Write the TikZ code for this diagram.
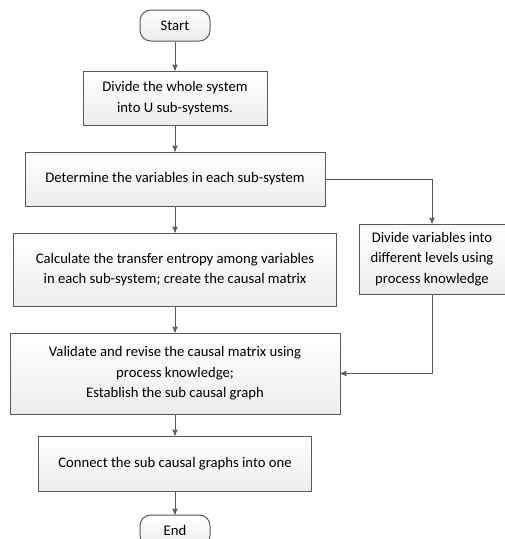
\documentclass[tikz,border=0pt]{standalone}
\usepackage{fontspec}
\setmainfont{Carlito}
\usetikzlibrary{shapes,arrows,positioning,calc}
\tikzstyle{startstop} = [rectangle, rounded corners=8pt, minimum width=52.5pt, minimum height=23.25pt, inner sep=0pt, text centered, draw=black!65, line width=0.75pt, top color=white, bottom color=gray!14]
\tikzstyle{process} = [rectangle, inner sep=0pt, align=center, draw=black!65, line width=0.75pt, top color=white, bottom color=gray!14]
\tikzstyle{arrow} = [draw=black!65, line width=0.7pt, ->, >=stealth']

\begin{document}
\begin{tikzpicture}[x=0.75pt, y=-0.75pt, font=\fontsize{11}{15.4}\selectfont]
        \useasboundingbox (0,0) rectangle (505,539);
        \node (start) [startstop] at (175,25.5) {Start};
        \node (divide) [process, minimum width=138pt, minimum height=40.5pt] at (175,98) {Divide the whole system\\into U sub-systems.};
        \node (determine) [process, minimum width=225pt, minimum height=40.5pt] at (175,179) {Determine the variables in each sub-system};
        \node (entropy) [process, minimum width=242.25pt, minimum height=54.75pt] at (175,269.5) {Calculate the transfer entropy among variables\\in each sub-system; create the causal matrix};
        \node (levels) [process, minimum width=109.5pt, minimum height=52.5pt] at (432,259) {Divide variables into\\different levels using\\process knowledge};
        \node (validate) [process, minimum width=247.5pt, minimum height=60.75pt] at (175,373.5) {Validate and revise the causal matrix using\\process knowledge;\\Establish the sub causal graph};
        \node (connect) [process, minimum width=204.75pt, minimum height=41.25pt] at (175,463.5) {Connect the sub causal graphs into one};
        \node (stop) [startstop] at (175,530.5) {End};
        \draw [arrow] (start) -- (divide);
        \draw [arrow] (divide) -- (determine);
        \draw [arrow] (determine) -- (entropy);
        \draw [arrow] (determine.east) -| (levels.north);
        \draw [arrow] (entropy) -- (validate);
        \draw [arrow] (levels.south) |- (validate.east);
        \draw [arrow] (validate) -- (connect);
        \draw [arrow] (connect) -- (stop);
    \end{tikzpicture}
\end{document}
